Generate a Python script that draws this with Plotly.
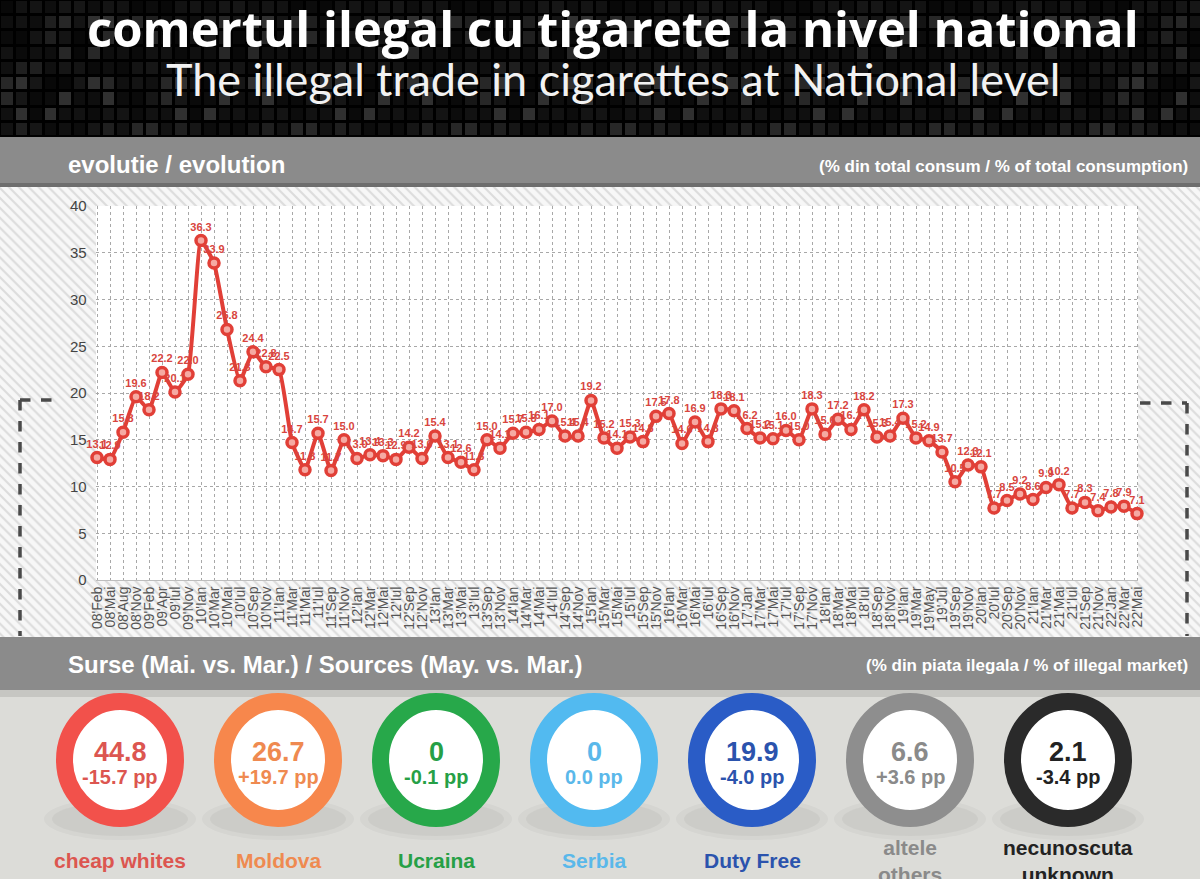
import plotly.graph_objects as go

# monthly share of illegal cigarettes, % of total consumption
periods = [
    "08'Feb", "08'Mai", "08'Aug", "08'Nov",
    "09'Feb", "09'Apr", "09'Iul", "09'Nov",
    "10'Ian", "10'Mar", "10'Mai", "10'Iul", "10'Sep", "10'Nov",
    "11'Ian", "11'Mar", "11'Mai", "11'Iul", "11'Sep", "11'Nov",
    "12'Ian", "12'Mar", "12'Mai", "12'Iul", "12'Sep", "12'Nov",
    "13'Ian", "13'Mar", "13'Mai", "13'Iul", "13'Sep", "13'Nov",
    "14'Ian", "14'Mar", "14'Mai", "14'Iul", "14'Sep", "14'Nov",
    "15'Ian", "15'Mar", "15'Mai", "15'Iul", "15'Sep", "15'Nov",
    "16'Ian", "16'Mar", "16'Mai", "16'Iul", "16'Sep", "16'Nov",
    "17'Jan", "17'Mar", "17'Mai", "17'Iul", "17'Sep", "17'Nov",
    "18'Ian", "18'Mar", "18'Mai", "18'Iul", "18'Sep", "18'Nov",
    "19'Ian", "19'Mar", "19'May", "19'Jul", "19'Sep", "19'Nov",
    "20'Ian", "20'Iul", "20'Sep", "20'Nov",
    "21'Ian", "21'Mar", "21'Mai", "21'Iul", "21'Sep", "21'Nov",
    "22'Jan", "22'Mar", "22'Mai",
]
illegal_share = [
    13.1, 12.9, 15.8, 19.6,
    18.2, 22.2, 20.1, 22.0,
    36.3, 33.9, 26.8, 21.3, 24.4, 22.8,
    22.5, 14.7, 11.8, 15.7, 11.7, 15.0,
    13.0, 13.4, 13.3, 12.9, 14.2, 13.0,
    15.4, 13.1, 12.6, 11.8, 15.0, 14.1,
    15.7, 15.8, 16.1, 17.0, 15.4, 15.4,
    19.2, 15.2, 14.1, 15.3, 14.8, 17.5,
    17.8, 14.6, 16.9, 14.8, 18.3, 18.1,
    16.2, 15.2, 15.1, 16.0, 15.0, 18.3,
    15.6, 17.2, 16.1, 18.2, 15.3, 15.4,
    17.3, 15.2, 14.9, 13.7, 10.5, 12.3,
    12.1, 7.7, 8.5, 9.2,
    8.6, 9.9, 10.2, 7.7, 8.3, 7.4,
    7.8, 7.9, 7.1,
]

# sources of the illegal market (May vs. March), % of illegal market
source_names = ["cheap whites", "Moldova", "Ucraina", "Serbia", "Duty Free",
                "altele<br>others", "necunoscuta<br>unknown"]
source_share = [44.8, 26.7, 0, 0, 19.9, 6.6, 2.1]
source_change = [-15.7, 19.7, -0.1, 0.0, -4.0, 3.6, -3.4]

ring_colors = ["#f2514b", "#f7874c", "#27a84a", "#52baf0", "#2a5cc6", "#8e8e8e", "#2a2a2a"]
text_colors = ["#dc5650", "#ef8a50", "#26a046", "#5ab8ea", "#2b53ad", "#8a8a8a", "#222222"]

W, H = 1200, 879
RED = "#e13f37"

fig = go.Figure()

# dark tiled header texture
cols, rows = 83, 9
cw, ch = 14.5, 137 / 9
tex = [[((r * 5 + c * 3) ** 2 + c * 7) % 11 for c in range(cols)] for r in range(rows)]
fig.add_trace(go.Heatmap(
    x=[cw * (c + 0.5) for c in range(cols)], y=[ch * (r + 0.5) for r in range(rows)],
    z=tex, xgap=3, ygap=3, showscale=False, hoverinfo="skip",
    colorscale=[[0, "#080808"], [0.7, "#161616"], [1, "#303030"]],
))

# hatched panel behind the chart and the white plot area
fig.add_trace(go.Bar(
    x=[W / 2], y=[450], base=[187], width=[W], hoverinfo="skip",
    marker=dict(line_width=0, pattern=dict(shape="\\", fillmode="replace", size=7, solidity=0.3,
                                           fgcolor="#dcdcdc", bgcolor="#f7f7f7")),
))
fig.add_trace(go.Bar(
    x=[617], y=[374], base=[206], width=[1042], hoverinfo="skip",
    marker=dict(color="white", line_width=0),
))

# main line
fig.add_trace(go.Scatter(
    x=periods, y=illegal_share, xaxis="x2", yaxis="y2",
    mode="lines+markers+text",
    text=[f"{v:.1f}" for v in illegal_share], textposition="top center",
    textfont=dict(family="Liberation Sans", size=11, color="#d8453e", weight="bold"),
    line=dict(color=RED, width=4, shape="spline", smoothing=0.4),
    marker=dict(size=10, color="#f5aaa3", line=dict(color=RED, width=3.5)),
    cliponaxis=False, hoverinfo="skip",
))

shapes = [
    dict(type="rect", x0=0, x1=W, y0=0, y1=137, fillcolor="#000000", line_width=0, layer="below"),
    dict(type="rect", x0=0, x1=W, y0=137, y1=187, fillcolor="#8b8b8b", line_width=0, layer="below"),
    dict(type="rect", x0=0, x1=W, y0=183, y1=187, fillcolor="#6e6e6e", line_width=0, layer="below"),
    dict(type="rect", x0=0, x1=W, y0=636, y1=690, fillcolor="#8b8b8b", line_width=0, layer="below"),
    dict(type="rect", x0=0, x1=W, y0=690, y1=697, fillcolor="#c6c6c2", line_width=0, layer="below"),
]
for x0, y0, x1, y1 in [(20, 400, 60, 400), (20, 400, 20, 636),
                       (1140, 403, 1187, 403), (1187, 403, 1187, 636)]:
    shapes.append(dict(type="line", x0=x0, y0=y0, x1=x1, y1=y1,
                       line=dict(color="#4a4a4a", width=3.5, dash="dash")))

annotations = [
    dict(x=613, y=28, text="<b>comertul ilegal cu tigarete la nivel national</b>",
         font=dict(family="Open Sans", size=49, color="white")),
    dict(x=613, y=79, text="The illegal trade in cigarettes at National level",
         font=dict(family="Lato", size=45, color="#f2f2f2")),
    dict(x=66, y=164, xanchor="left", text="<b>evolutie / evolution</b>",
         font=dict(family="Liberation Sans", size=24, color="white")),
    dict(x=1190, y=166, xanchor="right", text="<b>(% din total consum / % of total consumption)</b>",
         font=dict(family="Liberation Sans", size=17, color="white")),
    dict(x=66, y=664, xanchor="left", text="<b>Surse (Mai. vs. Mar.) / Sources (May. vs. Mar.)</b>",
         font=dict(family="Liberation Sans", size=24, color="white")),
    dict(x=1190, y=665, xanchor="right", text="<b>(% din piata ilegala / % of illegal market)</b>",
         font=dict(family="Liberation Sans", size=17, color="white")),
]

cy = 760
for i, name in enumerate(source_names):
    cx = 120 + 158 * i
    for k, op in enumerate([0.03, 0.04]):
        shapes.append(dict(type="circle", x0=cx - 76 + 8 * k, x1=cx + 76 - 8 * k,
                           y0=cy + 38 + 4 * k, y1=cy + 80 - 4 * k,
                           fillcolor="black", opacity=op, line_width=0, layer="below"))
    shapes.append(dict(type="circle", x0=cx - 55.5, x1=cx + 55.5, y0=cy - 58.5, y1=cy + 58.5,
                       fillcolor="white", line=dict(color=ring_colors[i], width=17)))
    share = source_share[i]
    change = source_change[i]
    annotations.append(dict(x=cx, y=752, text=f"<b>{share:.1f}</b>" if share else "<b>0</b>",
                            font=dict(family="Liberation Sans", size=27, color=text_colors[i])))
    ch_txt = f"{change:+.1f}" if change else "0.0"
    annotations.append(dict(x=cx, y=777, text=f"<b>{ch_txt} pp</b>",
                            font=dict(family="Liberation Sans", size=20, color=text_colors[i])))
    two = "<br>" in name
    annotations.append(dict(x=cx, y=861 if two else 860, text=f"<b>{name}</b>",
                            font=dict(family="Liberation Sans", size=21, color=text_colors[i])))

for a in annotations:
    a.setdefault("xref", "x")
    a.setdefault("yref", "y")
    a["showarrow"] = False
for s in shapes:
    s["xref"] = "x"
    s["yref"] = "y"

x0_px, x1_px = 97 - 1.3, 1137 + 1.3
fig.update_layout(
    width=W, height=H, margin=dict(l=0, r=0, t=0, b=0, pad=0, autoexpand=False),
    paper_bgcolor="#dcdcd8", plot_bgcolor="rgba(0,0,0,0)",
    showlegend=False, barmode="overlay", hovermode=False,
    shapes=shapes, annotations=annotations,
    xaxis=dict(domain=[0, 1], range=[0, W], visible=False, fixedrange=True, automargin=False),
    yaxis=dict(domain=[0, 1], range=[H, 0], visible=False, fixedrange=True, automargin=False),
    xaxis2=dict(
        domain=[x0_px / W, x1_px / W], anchor="y2", type="category",
        range=[-0.1, len(periods) - 0.9], dtick=1, tickangle=-90, automargin=False,
        tickfont=dict(family="Liberation Sans", size=14, color="#555555"),
        showgrid=True, gridcolor="#a8a8a8", griddash="dot", gridwidth=1,
        showline=True, linecolor="#bdbdbd", ticks="", fixedrange=True,
    ),
    yaxis2=dict(
        domain=[(H - 580) / H, (H - 206) / H], anchor="x2", automargin=False,
        range=[0, 40], dtick=5, ticklabelstandoff=8,
        tickfont=dict(family="Liberation Sans", size=15, color="#444444"),
        showgrid=True, gridcolor="#a8a8a8", griddash="dot", gridwidth=1,
        zeroline=False, ticks="", fixedrange=True,
    ),
)

fig.write_html(
    "out.html",
    config={"displayModeBar": False},
    post_script=("document.body.style.margin='0px';"
                 "document.body.style.overflow='hidden';"
                 "document.documentElement.style.overflow='hidden';"),
)
